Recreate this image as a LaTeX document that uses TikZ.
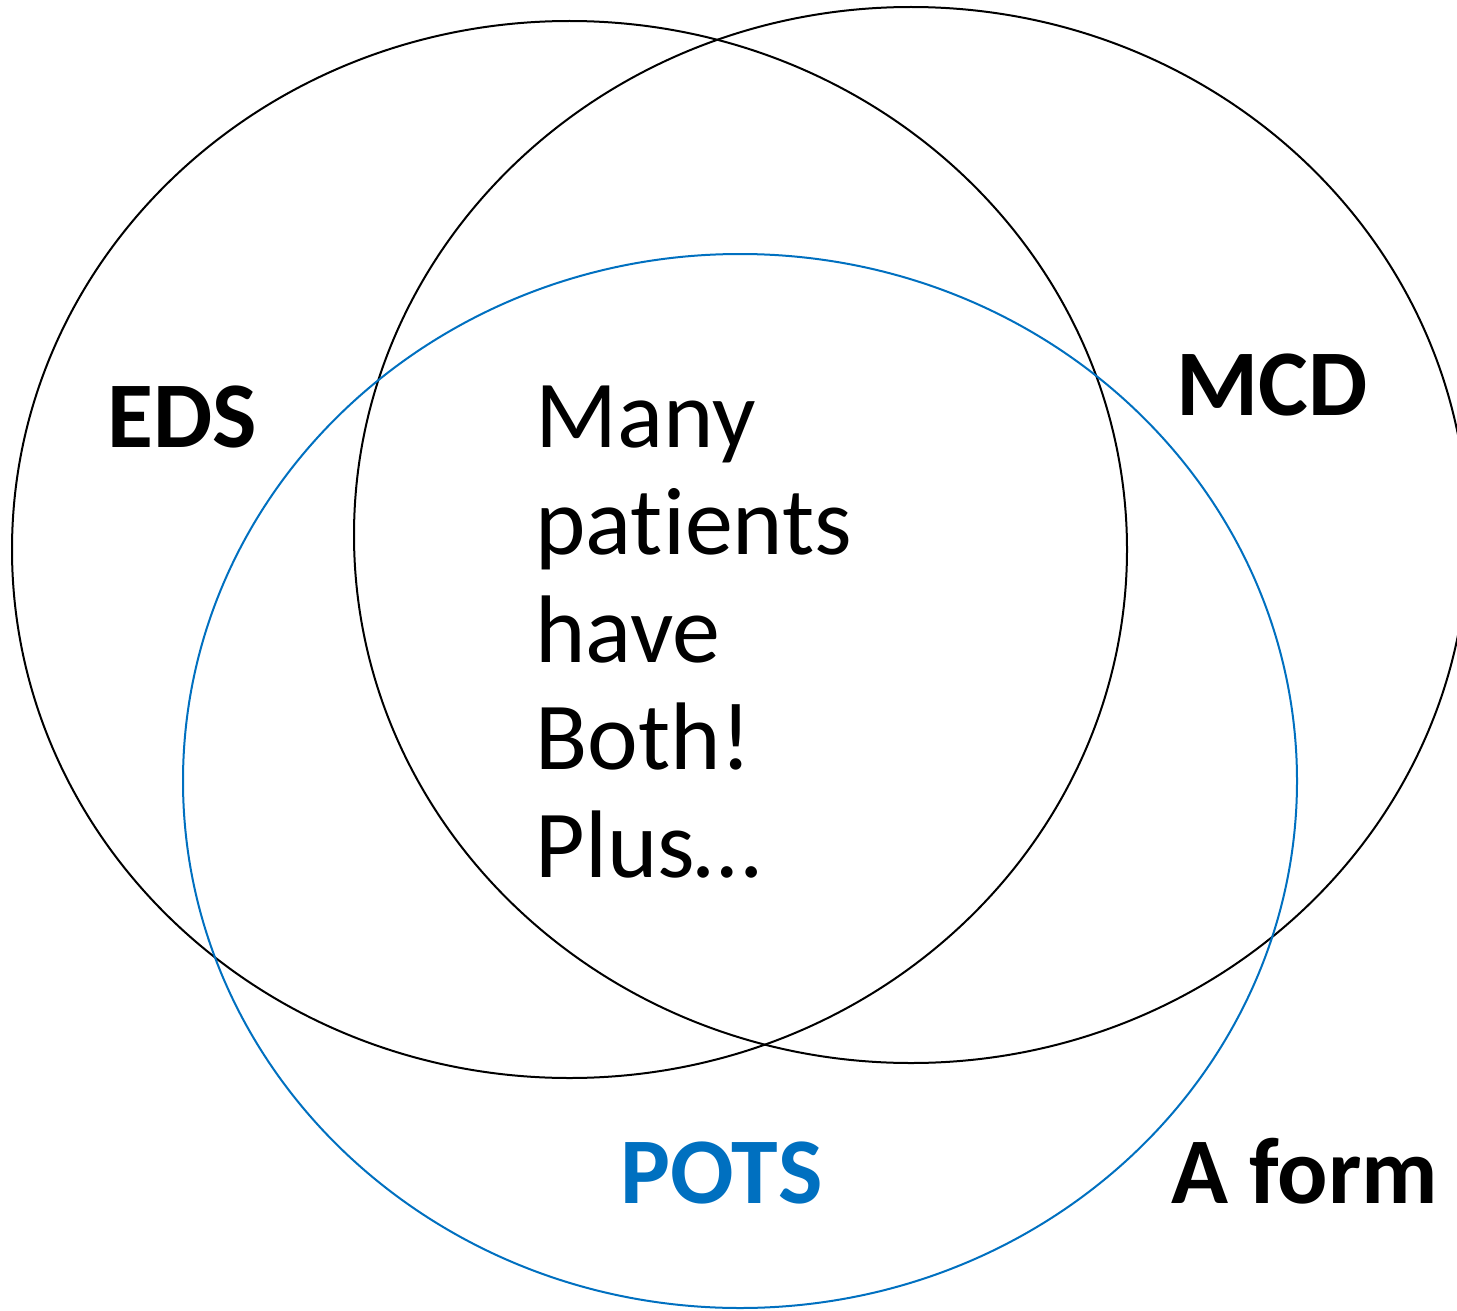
\documentclass[tikz,border=0pt]{standalone}
\usepackage{fontspec}
\setmainfont{Carlito}[RawFeature=-liga]
\definecolor{potsblue}{HTML}{0070C0}
\tikzset{
  vennline/.style={line width=1pt, draw=black},
  potsline/.style={line width=1pt, draw=potsblue},
  setlabel/.style={font=\fontsize{47}{56}\selectfont\bfseries, inner sep=0pt, anchor=base west},
  bodytext/.style={font=\fontsize{48}{53.75}\selectfont, inner sep=0pt, align=left, anchor=base west},
}
\begin{document}
\begin{tikzpicture}[x=0.5pt,y=-0.5pt]
\useasboundingbox (0,0) rectangle (1457,1311);
\clip (0,0) rectangle (1457,1311);
\fill[white] (0,0) rectangle (1457,1311);
% EDS
\draw[vennline] (569.5,549.5) ellipse [x radius=278.75pt, y radius=264.25pt];
% MCD
\draw[vennline] (911,535) ellipse [x radius=278.5pt, y radius=264pt];
% POTS
\draw[potsline] (740,781) ellipse [x radius=278.5pt, y radius=263.5pt];
\node[setlabel] (eds) at (107,447) {EDS};
\node[setlabel] (mcd) at (1176,415) {MCD};
\node[setlabel, text=potsblue] (pots) at (620,1203) {POTS};
\node[setlabel] (aform) at (1171,1203) {A form};
\node[bodytext] (both) at (535,877) {Many\\patients\\have\\Both!\\Plus\dots};
\end{tikzpicture}
\end{document}
